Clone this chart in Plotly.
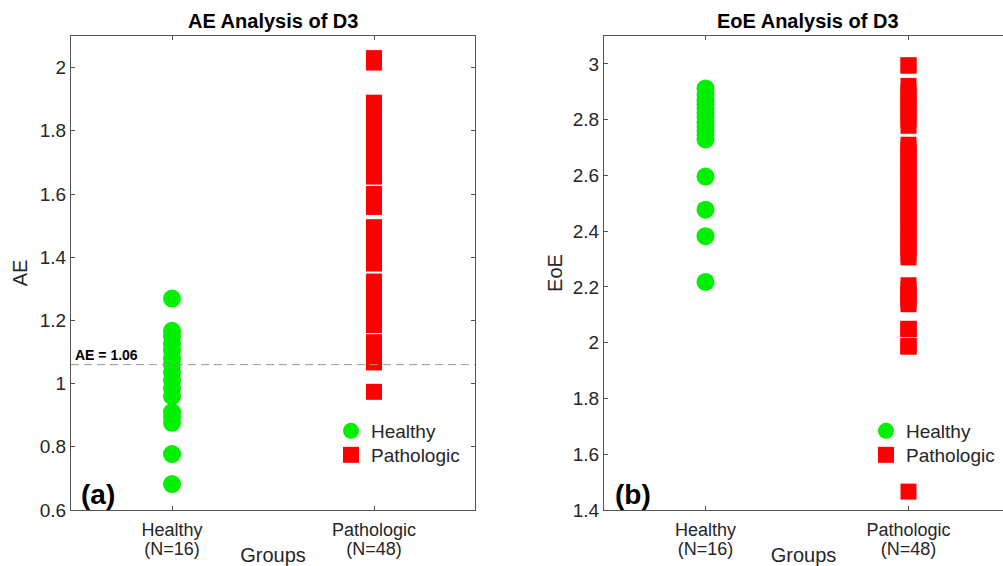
import plotly.graph_objects as go

# ---------------- data ----------------
groups = ["Healthy", "Pathologic"]
group_counts = ["(N=16)", "(N=48)"]
group_pos = [1, 2]

ae_healthy = [1.269, 1.167, 1.150, 1.125, 1.105, 1.080, 1.060, 1.035, 1.010,
              0.985, 0.960, 0.910, 0.895, 0.876, 0.777, 0.682]
ae_pathologic = [2.030, 2.016,
                 1.889, 1.870, 1.855, 1.840, 1.820, 1.800, 1.785, 1.770,
                 1.750, 1.730, 1.710, 1.690, 1.675, 1.655,
                 1.600, 1.590, 1.580, 1.570, 1.559,
                 1.495, 1.480, 1.465, 1.450, 1.435, 1.420, 1.405, 1.390, 1.380,
                 1.323, 1.305, 1.290, 1.275, 1.260, 1.240, 1.220, 1.200, 1.185,
                 1.131, 1.120, 1.110, 1.100, 1.090, 1.080, 1.075, 1.067,
                 0.974]
ae_threshold = 1.06

eoe_healthy = [2.912, 2.890, 2.870, 2.855, 2.840, 2.825, 2.810, 2.790, 2.775,
               2.760, 2.745, 2.729, 2.596, 2.477, 2.382, 2.218]
eoe_pathologic = [2.995, 2.994,
                  2.921, 2.900, 2.880, 2.860, 2.840, 2.820, 2.800, 2.778,
                  2.710, 2.695, 2.680, 2.660, 2.645, 2.630, 2.610, 2.595, 2.580,
                  2.560, 2.545, 2.530, 2.510, 2.495, 2.480, 2.460, 2.445, 2.430,
                  2.410, 2.390, 2.370, 2.355, 2.340, 2.320, 2.306,
                  2.206, 2.190, 2.175, 2.160, 2.150, 2.138,
                  2.050, 2.049, 2.048,
                  1.988, 1.987, 1.986,
                  1.466]

# ---------------- styling ----------------
FONT = "Liberation Sans, Arial, Helvetica, sans-serif"
GREEN = "rgb(0,240,0)"
RED = "rgb(255,0,0)"
AXC = "#555555"
TXT = "#262626"
W, H = 1003, 566

def px_x(p):
    return p / W

def px_y(p):
    return (H - p) / H

fig = go.Figure()

# left panel
fig.add_trace(go.Scatter(x=[group_pos[0]] * len(ae_healthy), y=ae_healthy, mode="markers",
                         name="Healthy", marker=dict(symbol="circle", size=18, color=GREEN),
                         xaxis="x", yaxis="y", legend="legend"))
fig.add_trace(go.Scatter(x=[group_pos[1]] * len(ae_pathologic), y=ae_pathologic, mode="markers",
                         name="Pathologic", marker=dict(symbol="square", size=16, color=RED),
                         xaxis="x", yaxis="y", legend="legend3"))
# right panel
fig.add_trace(go.Scatter(x=[group_pos[0]] * len(eoe_healthy), y=eoe_healthy, mode="markers",
                         name="Healthy", marker=dict(symbol="circle", size=18, color=GREEN),
                         xaxis="x2", yaxis="y2", legend="legend2"))
fig.add_trace(go.Scatter(x=[group_pos[1]] * len(eoe_pathologic), y=eoe_pathologic, mode="markers",
                         name="Pathologic", marker=dict(symbol="square", size=16, color=RED),
                         xaxis="x2", yaxis="y2", legend="legend4"))
# empty traces to hold second-line tick axes
fig.add_trace(go.Scatter(x=[], y=[], xaxis="x3", yaxis="y", showlegend=False, hoverinfo="skip"))
fig.add_trace(go.Scatter(x=[], y=[], xaxis="x4", yaxis="y2", showlegend=False, hoverinfo="skip"))

ydom = [px_y(510), px_y(36)]
left_dom = [px_x(71), px_x(475)]
right_dom = [px_x(604), 1.0]
right_xmax = 0.5 + (W - 604) / 203.0

common_x = dict(tickvals=group_pos, ticktext=groups, ticks="inside", ticklen=4,
                tickcolor=AXC, showline=True, linecolor=AXC, linewidth=1, mirror="ticks",
                showgrid=False, zeroline=False, automargin=False, ticklabelstandoff=3,
                tickfont=dict(family=FONT, size=18, color=TXT),
                title=dict(text="Groups", font=dict(family=FONT, size=20, color=TXT), standoff=9))
common_y = dict(dtick=0.2, ticks="inside", ticklen=4, tickcolor=AXC, showline=True,
                linecolor=AXC, linewidth=1, showgrid=False, zeroline=False, automargin=False,
                tickfont=dict(family=FONT, size=19, color=TXT))
second_x = dict(tickvals=group_pos, ticktext=group_counts, ticks="", showline=False,
                showgrid=False, zeroline=False, ticklabelstandoff=26, automargin=False,
                tickfont=dict(family=FONT, size=18, color=TXT))

def legend_at(xpx, ypx):
    return dict(x=px_x(xpx), y=px_y(ypx), xanchor="left", yanchor="top",
                bgcolor="rgba(0,0,0,0)", borderwidth=0, tracegroupgap=0,
                font=dict(family=FONT, size=19, color=TXT))

fig.update_layout(
    width=W, height=H, autosize=False, margin=dict(l=0, r=0, t=0, b=0),
    paper_bgcolor="white", plot_bgcolor="white",
    font=dict(family=FONT, color=TXT),
    xaxis=dict(domain=left_dom, range=[0.5, 2.5], anchor="y", **common_x),
    yaxis=dict(domain=ydom, range=[0.6, 2.1], anchor="x", mirror="ticks",
               title=dict(text="AE", font=dict(family=FONT, size=20, color=TXT), standoff=6),
               **common_y),
    xaxis2=dict(domain=right_dom, range=[0.5, right_xmax], anchor="y2", **common_x),
    yaxis2=dict(domain=ydom, range=[1.4, 3.1], anchor="x2", mirror=False,
                title=dict(text="EoE", font=dict(family=FONT, size=20, color=TXT), standoff=4),
                **common_y),
    xaxis3=dict(overlaying="x", anchor="y", range=[0.5, 2.5], **second_x),
    xaxis4=dict(overlaying="x2", anchor="y2", range=[0.5, right_xmax], **second_x),
    legend=legend_at(331, 412),
    legend3=legend_at(331, 436),
    legend2=legend_at(866, 412),
    legend4=legend_at(866, 436),
    showlegend=True,
)

# threshold line
fig.add_shape(type="line", xref="x domain", yref="y", x0=0, x1=1, y0=ae_threshold, y1=ae_threshold,
              line=dict(color="#999999", width=1, dash="8px,5px"))
fig.add_annotation(xref="x domain", yref="y", x=0.005, y=ae_threshold, xanchor="left",
                   yanchor="bottom", showarrow=False, text="<b>AE = %.2f</b>" % ae_threshold,
                   font=dict(family=FONT, size=14, color="black"))

# titles
fig.add_annotation(xref="paper", yref="paper", x=px_x(273), y=px_y(21), xanchor="center",
                   yanchor="middle", showarrow=False,
                   text="<b>AE Analysis of D3</b>", font=dict(family=FONT, size=20, color="black"))
fig.add_annotation(xref="paper", yref="paper", x=px_x(808), y=px_y(21), xanchor="center",
                   yanchor="middle", showarrow=False,
                   text="<b>EoE Analysis of D3</b>", font=dict(family=FONT, size=20, color="black"))

# panel labels
fig.add_annotation(xref="paper", yref="paper", x=px_x(79), y=px_y(494), xanchor="left",
                   yanchor="middle", showarrow=False, text="<b>(a)</b>",
                   font=dict(family=FONT, size=28, color="black"))
fig.add_annotation(xref="paper", yref="paper", x=px_x(613), y=px_y(494), xanchor="left",
                   yanchor="middle", showarrow=False, text="<b>(b)</b>",
                   font=dict(family=FONT, size=28, color="black"))

fig.write_html("out.html",
               config={"responsive": False, "displayModeBar": False},
               post_script="document.body.style.margin='0';document.body.style.overflow='hidden';")
